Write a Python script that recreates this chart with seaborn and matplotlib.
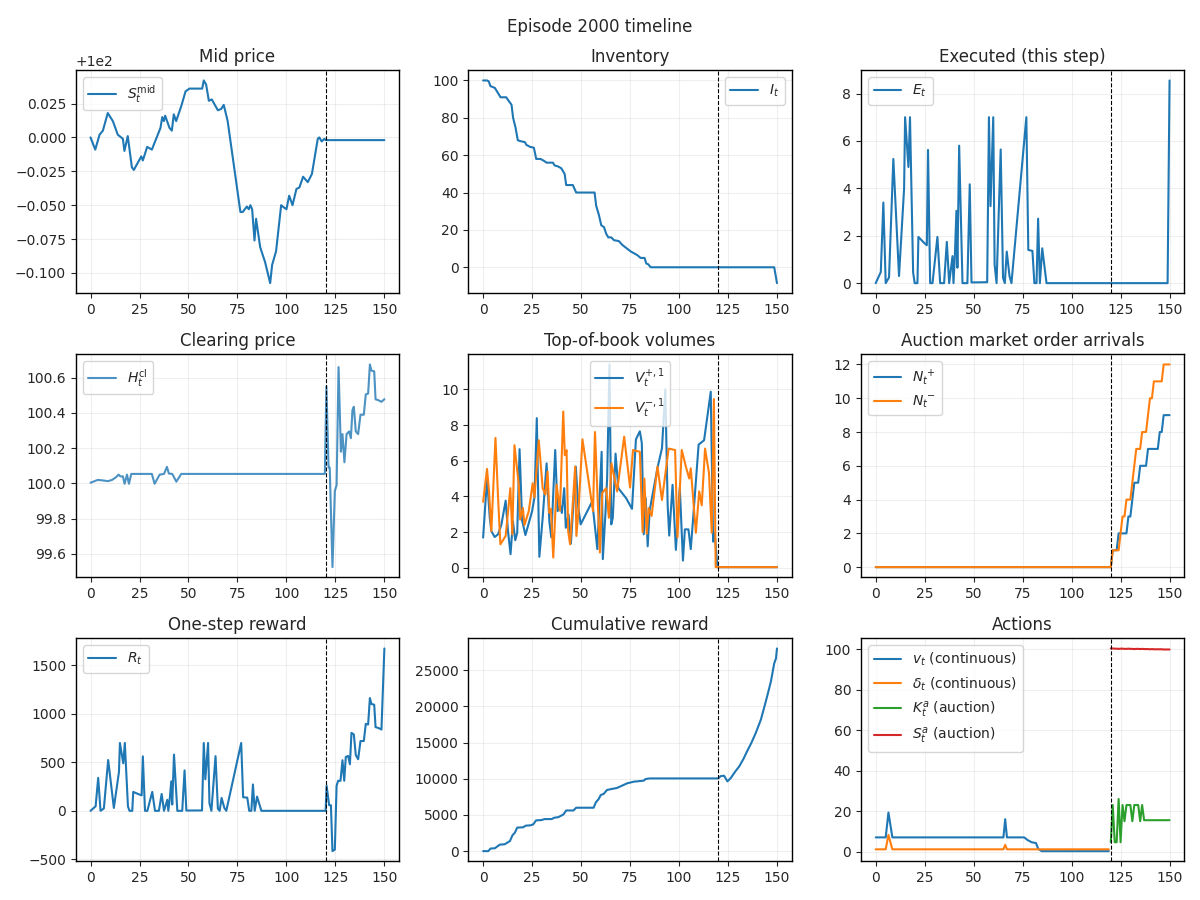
import matplotlib
matplotlib.use("Agg")
import matplotlib.pyplot as plt
import seaborn as sns
import numpy as np

# ---------------- data ----------------
t_mid = [0, 2.4, 4.6, 6.3, 8.8, 11.4, 13.9, 16.5, 17.3, 19.0, 21.1, 22.1, 25.9, 26.7, 28.9,
         31.3, 35.7, 36.6, 37.4, 38.1, 40.3, 41.5, 42.5, 43.7, 46.3, 48.5, 50.5, 57.0, 57.8, 59.0,
         60.4, 61.9, 65.0, 66.7, 68.0, 70.0, 76.5, 77.7, 79.8, 80.8, 81.6, 82.5, 83.7, 84.5, 86.6,
         89.1, 91.7, 92.7, 94.7, 97.3, 98.1, 100.0, 101.4, 103.1, 105.1, 106.6, 108.5, 110.9, 113.0,
         116.0, 116.8, 118.0, 119.4, 120, 150]
mid_price = [100.000, 99.991, 100.002, 100.005, 100.018, 100.012, 100.002, 99.999, 99.990, 100.001,
             99.978, 99.976, 99.986, 99.983, 99.993, 99.991, 100.007, 100.015, 100.012, 100.016,
             100.007, 100.005, 100.017, 100.012, 100.023, 100.034, 100.036, 100.036, 100.042, 100.039,
             100.027, 100.028, 100.020, 100.021, 100.024, 100.012, 99.945, 99.945, 99.949, 99.947,
             99.950, 99.947, 99.924, 99.940, 99.919, 99.908, 99.8925, 99.906, 99.916, 99.950,
             99.949, 99.947, 99.957, 99.950, 99.962, 99.963, 99.971, 99.967, 99.973, 99.999,
             100.000, 99.997, 99.999, 99.998, 99.998]

t_inv = [0, 2.0, 2.9, 3.7, 6.0, 8.9, 11.8, 13.1, 14.5, 15.3, 16.5, 17.7, 19.1, 21.3, 22.1, 23.9,
         25.9, 27.1, 29.3, 31.0, 32.4, 35.6, 36.5, 38.2, 39.9, 41.6, 42.4, 45.8, 47.5, 56.9, 57.7,
         59.1, 60.3, 61.7, 62.8, 63.9, 65.4, 66.8, 69.3, 71.0, 75.3, 78.7, 80.4, 82.4, 83.3, 84.3,
         85.5, 148.6, 150]
inventory = [100, 100, 99.5, 97, 96, 91, 91, 89, 87, 80, 75, 68, 67.5, 67, 65.5, 64.5, 64, 58, 58,
             57, 56, 56, 54.5, 54, 53, 50, 44, 44, 40, 40, 33, 28, 22.5, 21.5, 18, 16, 16, 14.5,
             14, 12, 8.5, 6.5, 5, 5, 2, 1.6, 0, 0, -8.5]

t_exec = [0, 2.6, 3.9, 5.1, 6.8, 9.0, 11.9, 14.5, 15.0, 16.7, 17.5, 19.1, 19.9, 21.3, 21.8,
          24.7, 26.1, 26.7, 27.8, 29.0, 31.5, 32.9, 34.9, 36.3, 37.5, 39.2, 39.7, 40.4, 41.2, 41.7,
          42.6, 44.3, 46.8, 48.0, 48.9, 56.9, 57.8, 58.6, 60.0, 60.7, 61.7, 63.8, 65.0, 65.9, 66.9,
          68.3, 69.3, 76.9, 77.9, 80.0, 81.0, 82.1, 82.9, 83.8, 85.0, 87.2, 149.0, 150.0]
executed = [0, 0.47, 3.4, 0, 0.24, 5.24, 0.3, 4.0, 7.0, 4.9, 7.0, 0.45, 0, 0, 1.95, 1.7, 1.6,
            5.62, 0, 0, 1.95, 0, 0, 1.74, 0, 1.14, 0, 1.14, 3.05, 0.65, 5.8, 0, 0, 4.17, 0.03,
            0.04, 7.0, 3.25, 7.0, 0.78, 0, 5.64, 0.22, 0, 1.33, 0.3, 0, 7.0, 1.4, 1.36, 0, 0,
            2.72, 0, 1.47, 0, 0, 8.55]

t_clear = [0, 3.7, 5.5, 8.9, 11, 13, 14.3, 15.2, 16.5, 17.4, 18.6, 19.6, 20.8, 22.5, 31.3, 32.7,
           35.3, 37.5, 39, 40, 41.7, 43.8, 46.3, 119.6, 120.4, 121.5, 122.1, 123.5, 124.7, 125.6,
           126.6, 127.8, 128.6, 129.6, 130.7, 132, 132.9, 133.7, 134.4, 135.4, 136.6, 137.8,
           139.5, 140.5, 141.7, 142.6, 143.4, 144.8, 145.5, 146.8, 148.5, 150]
clearing = [100.004, 100.02, 100.018, 100.013, 100.02, 100.035, 100.05, 100.04, 100.04, 99.998,
            100.05, 99.998, 100.054, 100.054, 100.054, 99.998, 100.05, 100.054, 100.094, 100.056,
            100.054, 100.01, 100.054, 100.054, 100.55, 100.09, 100.09, 99.525, 99.957, 99.99,
            100.66, 100.18, 100.28, 100.12, 100.28, 100.295, 100.257, 100.416, 100.435, 100.295,
            100.28, 100.39, 100.39, 100.505, 100.51, 100.675, 100.64, 100.636, 100.477, 100.473,
            100.463, 100.478]

t_vplus = [0, 2, 3.4, 4.2, 5.9, 7.6, 9.3, 11.5, 12.7, 14, 15.2, 16.4, 17.4, 18.6, 19.9, 21.6, 25,
           26.2, 27.4, 28.7, 30.4, 32.4, 33.8, 34.8, 36.8, 38, 39.2, 40.2, 41.4, 42.2, 43.6, 44.8,
           47.3, 48.6, 49.8, 55.7, 58.3, 60.5, 61.1, 62.5, 63.3, 64.5, 65.4, 66.2, 67.6, 69, 73,
           76, 78, 80, 81, 82, 83, 84, 85, 89, 91.3, 93, 94.2, 95, 96.7, 98.4, 100.4, 102, 103,
           104.8, 106, 107.7, 110, 112.8, 116.2, 117.4, 118.2, 119.6, 150]
v_plus = [1.69, 5.0, 2.8, 2.05, 1.72, 1.87, 2.4, 3.76, 2.05, 0.76, 2.6, 1.54, 1.96, 6.65, 2.65,
          1.83, 3.17, 3.94, 8.39, 0.61, 2.8, 5.85, 2.6, 1.7, 6.6, 3.17, 3.54, 3.07, 4.46, 2.24,
          2.98, 1.35, 5.67, 3.35, 2.43, 3.72, 1.04, 6.5, 0.48, 3.17, 5.0, 11.4, 2.43, 2.8, 6.4,
          4.46, 3.9, 3.3, 7.2, 7.65, 7.0, 1.87, 3.9, 1.2, 3.2, 5.6, 6.7, 10.0, 3.5, 1.8, 4.65,
          1.0, 4.5, 0.4, 2.15, 2.15, 1.04, 3.5, 6.9, 7.15, 9.87, 1.46, 1.96, 0.03, 0.03]

t_vminus = [0, 2, 3, 4.2, 6.3, 7.6, 8.8, 11.5, 13.9, 14.9, 16, 18.2, 18.9, 20.3, 21.1, 23.3,
            25.3, 26.2, 28.4, 30.4, 31.8, 32.9, 33.8, 34.6, 35.8, 37.5, 39.2, 40.9, 41.7, 42.6,
            43.4, 44.4, 47, 47.6, 48.6, 50.7, 56.1, 57.1, 58.3, 59.6, 60.8, 62.8, 64.2, 65.5,
            68.4, 72, 75, 76.5, 80, 81.4, 82.3, 83.5, 84.5, 86, 89, 91.3, 94.7, 98, 99.2, 101.4,
            103.5, 105.2, 106, 108.6, 110.3, 111.6, 113.3, 115.3, 116.7, 117.8, 118.7, 150]
v_minus = [3.69, 5.54, 4.3, 2.05, 7.28, 4.0, 1.31, 1.78, 4.46, 1.87, 6.87, 4.65, 2.7, 3.35, 2.39,
           3.17, 4.74, 3.94, 7.15, 4.46, 4.1, 5.39, 3.07, 3.3, 0.57, 4.65, 3.2, 8.76, 6.31, 6.59,
           2.05, 1.31, 5.67, 1.78, 3.07, 7.2, 3.17, 7.61, 4.28, 0.85, 4.19, 4.46, 2.8, 5.85,
           4.28, 7.35, 4.5, 6.6, 6.5, 2.0, 5.0, 1.9, 3.35, 2.9, 5.67, 3.8, 6.68, 6.6, 1.7, 6.6,
           5.67, 5.0, 5.57, 1.96, 4.28, 3.5, 6.68, 5.3, 1.96, 9.46, 0.03, 0.03]

t_arr = [0] + list(range(120, 151))
n_plus = [0, 0, 1, 1, 1, 2, 2, 2, 2, 2, 3, 3, 4, 5, 5, 5, 6, 6, 6, 6, 7, 7, 7, 7, 7, 7, 8, 8,
          9, 9, 9, 9]
n_minus = [0, 0, 1, 1, 1, 1, 2, 3, 3, 4, 4, 4, 5, 6, 7, 7, 7, 8, 8, 8, 9, 10, 10, 11, 11, 11,
           11, 11, 12, 12, 12, 12]

t_rew = [0, 2.6, 3.9, 5.1, 6.8, 9.0, 11.9, 14.5, 15.0, 16.7, 17.5, 19.1, 19.9, 21.3, 21.8,
         24.7, 26.1, 26.7, 27.8, 29.0, 31.5, 32.9, 34.9, 36.3, 37.5, 39.2, 39.7, 40.4, 41.2, 41.7,
         42.6, 44.3, 46.8, 48.0, 48.9, 56.9, 57.8, 58.6, 60.0, 60.7, 61.7, 63.8, 65.0, 65.9, 66.9,
         68.3, 69.3, 76.9, 77.9, 80.0, 81.0, 82.1, 82.9, 83.8, 85.0, 87.2, 120,
         120.5, 121.8, 122.7, 123.5, 124.7, 125.6, 126.4, 127.6, 128.6, 129.5, 130.3, 131.5,
         132.4, 133.2, 134.4, 135.4, 136.6, 137.8, 139.5, 140.5, 141.7, 142.6, 143.4, 144.8,
         145.5, 146.8, 148.5, 150]
reward = [0, 47, 340, 0, 24, 524, 30, 400, 700, 490, 700, 45, 0, 0, 195, 170, 160, 562, 0, 0,
          195, 0, 0, 174, 0, 114, 0, 114, 305, 65, 580, 0, 0, 417, 3, 4, 700, 325, 700, 78, 0,
          564, 22, 0, 133, 30, 0, 700, 140, 136, 0, 0, 272, 0, 147, 0, 0,
          259, 58, 58, -416, -400, 259, 310, 310, 522, 310, 556, 566, 481, 804, 788, 576, 532,
          720, 720, 897, 890, 1163, 1102, 1095, 863, 856, 839, 1675]

t_cum = [0, 2.6, 3.8, 6, 8.5, 11, 13.7, 15, 16.2, 17.4, 20.5, 21.7, 24, 25.6, 27, 29.9, 31.3, 35,
         36.2, 38.4, 41, 42.4, 46.1, 47.5, 56.4, 57.6, 58.9, 60.1, 61.5, 63.2, 65.8, 68.3, 73.5,
         76.9, 82, 82.9, 84.9, 120, 121.3, 123, 124.7, 126.4, 128.7, 130.7, 132.8, 135, 137,
         139.2, 141.8, 143.5, 145.2, 146.9, 148.6, 149.5, 150]
cum_reward = [0, 0, 360, 400, 900, 950, 1400, 2200, 2550, 3250, 3300, 3520, 3560, 3700, 4250,
              4300, 4430, 4430, 4610, 4700, 5070, 5620, 5620, 6000, 6000, 6770, 7170, 7770, 7900,
              8450, 8600, 8730, 9370, 9600, 9740, 9960, 10050, 10050, 10370, 10420, 9640, 10100,
              11000, 11700, 12700, 13940, 15000, 16350, 18190, 19880, 21620, 23440, 25960,
              26640, 28010]

t_v = [0, 5.1, 6.5, 8.5, 65.2, 66.1, 67, 75.8, 77.5, 79.6, 81.8, 83, 84.7, 119]
v_act = [7, 7, 19.3, 7, 7, 16, 7, 7, 5.7, 4.6, 4.2, 1.3, 0.2, 0.2]
t_d = [0, 5.1, 6.5, 8.5, 65.2, 66.1, 67, 119]
delta_act = [1.1, 1.1, 8.2, 1.1, 1.1, 3.3, 1.1, 1.1]
t_auc = list(range(120, 151))
k_auc = [4.6, 23, 4.6, 4.6, 26, 4.6, 23, 15, 23, 23, 23, 15, 23, 23, 23, 15, 23, 15.5,
         15.5, 15.5, 15.5, 15.5, 15.5, 15.5, 15.5, 15.5, 15.5, 15.5, 15.5, 15.5, 15.5]
s_auc = [100.4, 100.4, 100.3, 100.3, 100.2, 100.3, 100.3, 100.2, 100.2, 100.3, 100.2, 100.2,
         100.1, 100.2, 100.2, 100.1, 100.2, 100.1, 100.1, 100.1, 100.0, 100.1, 100.0, 100.0,
         100.0, 100.0, 100.0, 99.9, 99.9, 99.9, 99.9]

T_SWITCH = 120

# ---------------- plot ----------------
sns.set_style("white")
plt.rcParams.update({"axes.edgecolor": "black", "xtick.bottom": True, "ytick.left": True,
                     "font.family": ["DejaVu Sans"]})

BLUE, ORANGE, GREEN, RED = "#1f77b4", "#ff7f0e", "#2ca02c", "#d62728"

fig, axes = plt.subplots(3, 3, figsize=(12, 9), dpi=100)


def line(ax, x, y, label, color, **kw):
    sns.lineplot(x=x, y=y, ax=ax, label=label, color=color, sort=False,
                 estimator=None, linewidth=1.5, **kw)


ax = axes[0, 0]
line(ax, t_mid, mid_price, r"$S^{\rm mid}_t$", BLUE)
ax.set_title("Mid price")
ax.legend(loc="upper left")

ax = axes[0, 1]
line(ax, t_inv, inventory, r"$I_t$", BLUE)
ax.set_title("Inventory")
ax.legend(loc="upper right")

ax = axes[0, 2]
line(ax, t_exec, executed, r"$E_t$", BLUE)
ax.set_title("Executed (this step)")
ax.legend(loc="upper left")

ax = axes[1, 0]
line(ax, t_clear, clearing, r"$H^{\rm cl}_t$", BLUE, alpha=0.8)
ax.set_title("Clearing price")
ax.legend(loc="upper left")

ax = axes[1, 1]
line(ax, t_vplus, v_plus, r"$V^{+,1}_t$", BLUE)
line(ax, t_vminus, v_minus, r"$V^{-,1}_t$", ORANGE)
ax.set_title("Top-of-book volumes")
ax.legend(loc="upper center")

ax = axes[1, 2]
line(ax, t_arr, n_plus, r"${N_t}^{+}$", BLUE)
line(ax, t_arr, n_minus, r"${N_t}^{-}$", ORANGE)
ax.set_title("Auction market order arrivals")
ax.legend(loc="upper left")

ax = axes[2, 0]
line(ax, t_rew, reward, r"$R_t$", BLUE)
ax.set_title("One-step reward")
ax.legend(loc="upper left")

ax = axes[2, 1]
line(ax, t_cum, cum_reward, None, BLUE)
ax.set_title("Cumulative reward")

ax = axes[2, 2]
line(ax, t_v, v_act, r"$v_t$ (continuous)", BLUE)
line(ax, t_d, delta_act, r"$\delta_t$ (continuous)", ORANGE)
line(ax, t_auc, k_auc, r"$K^a_t$ (auction)", GREEN)
line(ax, t_auc, s_auc, r"$S^a_t$ (auction)", RED)
ax.set_title("Actions")
ax.legend(loc="upper left")

for ax in axes.flat:
    ax.axvline(T_SWITCH, color="black", linestyle="--", linewidth=0.8)
    ax.grid(True, alpha=0.3)
    ax.set_xlabel("")
    ax.set_ylabel("")
    ax.set_xticks([0, 25, 50, 75, 100, 125, 150])
    for s in ax.spines.values():
        s.set_visible(True)
        s.set_color("black")
        s.set_linewidth(1.0)

fig.suptitle("Episode 2000 timeline")
fig.tight_layout()
fig.savefig("out.png", dpi=100)
